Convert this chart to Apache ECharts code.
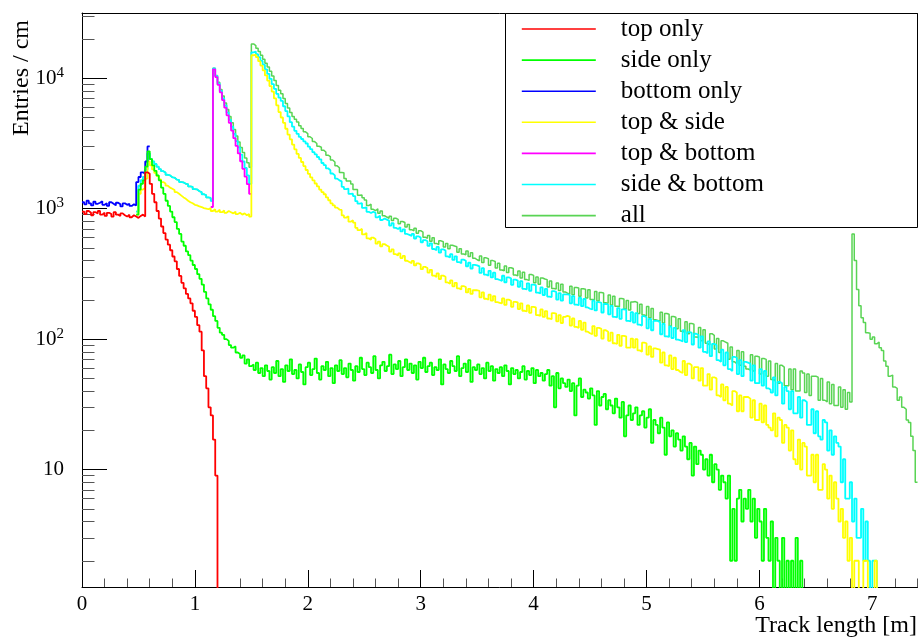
<!DOCTYPE html>
<html><head><meta charset="utf-8">
<script src="https://cdn.jsdelivr.net/npm/echarts@6/dist/echarts.min.js"></script>
<style>html,body{margin:0;padding:0;background:#fff}#c{width:919px;height:641px}</style>
</head><body><div id="c"></div>
<script>
// ---------- data (entries per cm, bins of 2 cm) ----------
const BIN = 0.02;
const names = ['top only','side only','bottom only','top & side','top & bottom','side & bottom','all'];
const colors = ['#ff0000','#00ff00','#0000ff','#ffff00','#ff00ff','#00ffff','#59d454'];

const redStart = 0.0;
const redVals = [
950,910,960,930,890,940,920,960,900,930,
880,930,910,870,940,900,880,920,890,870,
900,860,890,870,850,880,900,870,1900,1850,
1550,1300,1120,960,840,730,650,580,530,480,
430,395,345,305,270,245,222,205,188,165,
148,128,114,82,52,42,30,26,17,9,
0];

const blueStart = 0.0;
const blueVals = [
1120,1080,1150,1100,1060,1130,1090,1110,1140,1070,
1100,1050,1120,1090,1060,1110,1080,1040,1100,1070,
1090,1050,1080,1060,1600,1750,1900,1850,2300,3000];

const greenStart = 0.48;
const greenVals = [
900,1400,1550,1650,2100,2750,2400,2150,1950,1800,
1650,1450,1300,1150,1050,950,860,790,700,640,
560,520,470,440,400,370,345,315,290,262,
230,205,185,168,150,138,122,112,108,100,
97,90,86,88,79,77,72,75,65,70,
62,64,58,66,55,60,52,63,57,49,
61,55,68,52,59,47,63,57,70,54,
58,50,64,56,45,61,66,53,59,71,
55,49,62,58,67,52,60,46,63,57,
69,54,60,51,65,58,48,62,56,72,
59,53,66,61,55,74,58,50,63,67,
57,62,76,54,64,59,68,52,61,70,
58,65,55,63,49,67,60,72,56,62,
66,53,61,58,70,45,64,59,55,68,
62,57,74,52,60,65,56,69,47,61,
58,64,54,60,50,66,57,62,48,59,
55,61,52,63,57,45,60,54,58,50,
56,62,49,57,53,60,46,58,52,55,
48,54,58,44,52,30,55,42,50,46,
43,49,40,46,26,44,50,36,41,39,
35,42,37,22,40,31,36,38,29,34,
31,27,35,30,25,33,18,26,31,24,
27,30,22,26,28,21,25,29,16,24,
22,19,25,21,13,23,18,20,15,19,
17,14,18,15,12,16,9,15,11,14,
13,10,12,9,13,8,11,10,7,9,
8,6,9,2,5,2,6,7,4,6,
5,7,4,6,3,5,4,2,5,3,
2,4,1,3,2,0,3,1,2,0,
2,1,3,0,2,0];

const yellowStart = 0.48;
const yellowVals = [
900,1300,1400,1450,1700,2300,2150,2000,1880,1780,
1680,1600,1560,1500,1450,1420,1390,1340,1300,1260,
1220,1190,1150,1120,1100,1070,1060,1040,1030,1010,
1000,990,1010,960,990,950,980,940,970,930,
960,940,920,950,910,930,900,920,890,910,
870,15000,15200,14500,13500,12500,11500,10500,9600,8700,
7900,7000,6200,5500,5000,4550,4100,3700,3400,3100,
2850,2630,2450,2280,2120,1980,1850,1740,1650,1560,
1480,1400,1340,1290,1220,1160,1100,1060,1020,985,
978,888,854,876,795,814,783,713,684,700,
635,651,592,578,600,586,539,559,515,535,
522,510,469,487,448,437,454,418,434,399,
390,382,398,367,381,373,344,358,351,324,
340,307,300,319,289,307,301,272,266,282,
254,270,245,240,255,251,228,243,222,237,
237,234,209,228,204,201,219,197,214,192,
190,188,205,183,201,197,177,193,191,170,
188,165,163,181,159,177,175,153,151,169,
148,164,144,142,158,157,137,153,133,148,
151,149,127,144,124,122,138,118,134,114,
111,109,126,106,122,120,101,117,114,97,
112,93,92,108,89,106,105,86,86,101,
86,100,82,80,94,93,76,88,73,85,
84,83,66,79,63,62,75,59,72,58,
56,55,68,53,65,63,50,61,61,48,
60,44,44,54,41,51,50,37,36,45,
34,43,32,31,40,39,28,37,28,36,
36,35,25,34,24,24,32,23,31,22,
21,20,27,18,25,24,16,22,21,14,
20,12,11,17,10,16,15,9,9,13,
8,13,7,7,11,10,6,9,5,8,
6,4,5,3,4,2,3,0,2,2,
0,0,2,2,0,0,0,2,0,0];

const magentaStart = 1.14;
const magentaVals = [1030,11700,10200,8900,7800,6800,5950,5200,4550,3970,3470,3030,2650,2310,2020,1760,1540,1300];

const cyanStart = 0.48;
const cyanVals = [
950,1500,1650,1750,2000,2650,2400,2300,2200,2100,
2010,1940,1890,1820,1800,1740,1730,1670,1660,1600,
1590,1550,1540,1480,1470,1410,1405,1360,1340,1290,
1270,1220,1210,1150,11900,10400,9100,8000,7000,6200,
5450,4800,4250,3750,3300,2950,2600,2300,2050,1800,
1550,15800,16000,15300,14500,13600,12700,11700,10800,9900,
9000,8300,7600,7100,6700,6100,5600,5100,4600,4250,
3950,3750,3550,3420,3280,3160,2990,2860,2710,2610,
2490,2390,2240,2160,2040,1970,1860,1800,1700,1650,
1620,1472,1414,1425,1297,1302,1250,1141,1092,1102,
1014,1025,946,926,948,928,858,882,819,841,
824,809,742,773,713,698,721,669,695,640,
630,617,641,591,614,600,553,575,562,518,
543,491,480,509,460,488,477,431,422,448,
405,431,390,382,407,399,362,385,348,371,
368,361,322,350,312,307,334,297,323,288,
284,280,306,273,297,293,261,286,281,252,
278,243,241,268,235,262,259,227,224,249,
218,243,212,210,233,230,201,225,197,220,
220,218,188,214,184,182,208,179,203,175,
171,169,197,166,192,190,160,186,184,155,
180,148,147,173,143,169,168,138,137,161,
134,158,129,127,150,147,121,143,117,138,
138,135,109,131,105,104,125,102,122,99,
98,96,117,95,113,112,91,110,108,86,
105,80,78,96,74,92,90,69,67,83,
63,79,59,57,73,72,54,69,52,67,
66,65,48,63,46,46,59,44,57,42,
41,39,51,37,47,46,32,43,40,29,
40,27,27,36,25,34,33,22,22,29,
19,28,18,17,24,23,14,20,13,18,
16,15,8,12,6,6,8,4,6,3,
3,5,2,4,2,0,2,2,0,0];

const allStart = 0.48;
const allVals = [
950,1500,1650,1750,2000,2650,2400,2300,2200,2100,
2010,1940,1890,1820,1800,1740,1730,1670,1660,1600,
1590,1550,1540,1480,1470,1410,1405,1360,1340,1290,
1270,1220,1210,1150,11900,10500,9300,8200,7300,6450,
5750,5100,4550,4050,3600,3250,2950,2700,2450,2250,
2080,18300,17800,17000,16000,15000,14000,13000,12200,11300,
10400,9600,8800,8100,7600,7000,6400,5900,5450,5100,
4850,4620,4330,4120,3880,3760,3560,3450,3270,3160,
3010,2960,2810,2720,2570,2510,2360,2280,2130,2060,
1892,1886,1706,1628,1630,1548,1404,1404,1268,1271,
1215,1164,1057,1082,989,965,999,922,958,883,
863,844,876,810,845,829,766,798,783,723,
756,690,676,709,647,678,662,605,593,622,
564,599,542,531,567,558,508,542,492,525,
517,510,463,494,449,443,473,430,459,417,
406,399,434,386,420,413,368,400,394,351,
381,339,334,363,324,353,348,310,306,333,
294,326,286,282,313,308,270,300,263,294,
289,286,251,279,244,242,269,236,263,230,
225,222,254,219,249,247,213,243,241,207,
239,201,200,232,196,228,226,190,188,218,
183,213,179,177,205,203,170,198,167,193,
194,191,157,185,153,150,178,146,172,141,
139,137,161,133,157,155,126,149,147,120,
143,115,113,136,110,132,130,104,103,123,
97,118,93,90,110,107,84,101,79,97,
95,93,70,87,67,65,82,63,80,62,
59,58,76,57,74,73,54,71,70,52,
68,49,48,65,46,63,61,44,44,59,
41,59,40,40,57,55,39,54,37,52,
52,51,34,50,34,33,47,32,45,31,
31,43,30,41,29,39,33,640,400,240,
180,146,134,112,111,100,104,92,95,86,
82,68,62,52,53,43,42,34,36,30,
29,24,23,18,14,8];

const xMajorTicks = [0,1,2,3,4,5,6,7];
const xMinorTicks = [0.2,0.4,0.6,0.8,1.2,1.4,1.6,1.8,2.2,2.4,2.6,2.8,3.2,3.4,3.6,3.8,4.2,4.4,4.6,4.8,5.2,5.4,5.6,5.8,6.2,6.4,6.6,6.8,7.2,7.4];
const yMajorTicks = [10,100,1000,10000];
const yMinorTicks = [2,3,4,5,6,7,8,9,20,30,40,50,60,70,80,90,200,300,400,500,600,700,800,900,2000,3000,4000,5000,6000,7000,8000,9000,20000,30000];

// ---------- build ----------
function hist(x0, vals) {
  const pts = [];
  vals.forEach((v, i) => {
    const a = +(x0 + i * BIN).toFixed(4), b = +(x0 + (i + 1) * BIN).toFixed(4);
    const y = v > 0 ? v : 0.01;
    pts.push([a, y], [b, y]);
  });
  return pts;
}
const seriesDefs = [
  [6, allStart, allVals, 1.5],
  [5, cyanStart, cyanVals, 1.8],
  [4, magentaStart, magentaVals, 1.8],
  [3, yellowStart, yellowVals, 1.8],
  [2, blueStart, blueVals, 1.8],
  [1, greenStart, greenVals, 1.8],
  [0, redStart, redVals, 1.8]
];
const FONT = '"Liberation Serif", "Times New Roman", serif';
const YMIN = Math.pow(10, 0.1), YMAX = Math.pow(10, 4.5);

const chart = echarts.init(document.getElementById('c'), null, {renderer: 'canvas'});
chart.setOption({
  animation: false,
  backgroundColor: '#fff',
  grid: {left: 82, right: 1.5, top: 13, bottom: 54, containLabel: false},
  xAxis: [
    {type: 'value', min: 0, max: 7.4, position: 'bottom',
     axisLine: {show: true, lineStyle: {color: '#000', width: 1}},
     axisTick: {show: true, inside: true, length: 17, customValues: xMajorTicks, lineStyle: {color: '#000'}},
     axisLabel: {show: true, customValues: xMajorTicks, margin: 7, color: '#000', fontFamily: FONT, fontSize: 21, formatter: v => String(v)},
     splitLine: {show: false}},
    {type: 'value', min: 0, max: 7.4, position: 'bottom',
     axisLine: {show: false},
     axisTick: {show: true, inside: true, length: 8.5, customValues: xMinorTicks, lineStyle: {color: '#555'}},
     axisLabel: {show: false}, splitLine: {show: false}},
    {type: 'value', min: 0, max: 7.4, position: 'top',
     axisLine: {show: true, lineStyle: {color: '#000', width: 1}},
     axisTick: {show: false}, axisLabel: {show: false}, splitLine: {show: false}}
  ],
  yAxis: [
    {type: 'log', logBase: 10, min: YMIN, max: YMAX, position: 'left',
     axisLine: {show: true, lineStyle: {color: '#000', width: 1}},
     axisTick: {show: true, inside: true, length: 25, customValues: yMajorTicks, lineStyle: {color: '#000'}},
     axisLabel: {show: true, customValues: yMajorTicks, margin: 18, color: '#000',
       formatter: v => { const e = Math.round(Math.log10(v)); return e === 1 ? '{b|10}' : '{b|10}{s|' + e + '}'; },
       rich: {b: {fontFamily: FONT, fontSize: 21, color: '#000', lineHeight: 26},
              s: {fontFamily: FONT, fontSize: 15, color: '#000', lineHeight: 10, verticalAlign: 'top'}}},
     splitLine: {show: false}},
    {type: 'log', logBase: 10, min: YMIN, max: YMAX, position: 'left',
     axisLine: {show: false},
     axisTick: {show: true, inside: true, length: 12.5, customValues: yMinorTicks, lineStyle: {color: '#555'}},
     axisLabel: {show: false}, splitLine: {show: false}}
  ],
  legend: {
    show: true, orient: 'vertical', left: 516, top: 11.5, z: 10,
    itemWidth: 74, itemHeight: 4, itemGap: 6.1, selectedMode: false,
    data: names,
    itemStyle: {color: 'rgba(0,0,0,0)', borderColor: 'rgba(0,0,0,0)', borderWidth: 0},
    lineStyle: {width: 1.6},
    textStyle: {fontFamily: FONT, fontSize: 25, color: '#000', padding: [0, 0, 0, 20]}
  },
  graphic: {elements: [
    {type: 'rect', z: 5, shape: {x: 505.5, y: 13.5, width: 412, height: 214},
     style: {fill: '#fff', stroke: '#000', lineWidth: 1}},
    {type: 'text', z: 5, x: 917, y: 614,
     style: {text: 'Track length [m]', font: '24px ' + FONT, fill: '#000', align: 'right', textAlign: 'right', verticalAlign: 'top', textVerticalAlign: 'top'}},
    {type: 'text', z: 5, x: 22, y: 20, rotation: Math.PI / 2,
     style: {text: 'Entries / cm', font: '24px ' + FONT, fill: '#000', align: 'right', textAlign: 'right', verticalAlign: 'middle', textVerticalAlign: 'middle'}}
  ]},
  series: seriesDefs.map(([k, x0, vals, w]) => ({
    name: names[k], type: 'line', xAxisIndex: 0, yAxisIndex: 0,
    data: hist(x0, vals), showSymbol: false, symbol: 'none', clip: true,
    color: colors[k], lineStyle: {color: colors[k], width: w}, z: 2
  }))
});
</script></body></html>
